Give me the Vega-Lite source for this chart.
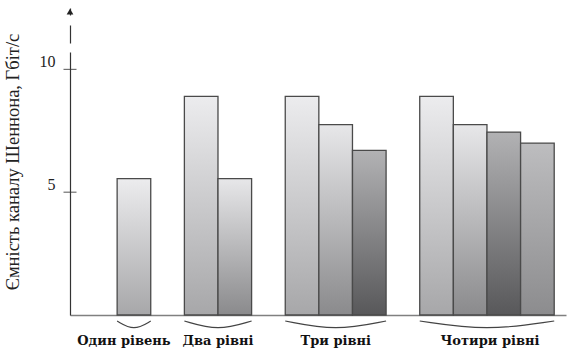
{
  "$schema": "https://vega.github.io/schema/vega-lite/v6.json",
  "width": 496,
  "height": 307,
  "autosize": {"type": "none"},
  "padding": {"left": 70, "top": 8, "right": 2, "bottom": 38},
  "background": "white",
  "config": {"view": {"stroke": null}, "font": "Liberation Serif"},
  "datasets": {
    "bars": [
      {"group": "Один рівень", "bar": "1-1", "level": 1, "capacity": 5.55},
      {"group": "Два рівні", "bar": "2-1", "level": 1, "capacity": 8.9},
      {"group": "Два рівні", "bar": "2-2", "level": 2, "capacity": 5.55},
      {"group": "Три рівні", "bar": "3-1", "level": 1, "capacity": 8.9},
      {"group": "Три рівні", "bar": "3-2", "level": 2, "capacity": 7.75},
      {"group": "Три рівні", "bar": "3-3", "level": 3, "capacity": 6.7},
      {"group": "Чотири рівні", "bar": "4-1", "level": 1, "capacity": 8.9},
      {"group": "Чотири рівні", "bar": "4-2", "level": 2, "capacity": 7.75},
      {"group": "Чотири рівні", "bar": "4-3", "level": 3, "capacity": 7.45},
      {"group": "Чотири рівні", "bar": "4-4", "level": 4, "capacity": 7.0}
    ],
    "braces": [
      {"group": "Один рівень", "bar": "e0", "dip": 0, "k": 0},
      {"group": "Один рівень", "bar": "1-1", "dip": 1, "k": 1},
      {"group": "Один рівень", "bar": "e1", "dip": 0, "k": 2},
      {"group": "Два рівні", "bar": "e2", "dip": 0, "k": 0},
      {"group": "Два рівні", "bar": "e3", "dip": 1, "k": 1},
      {"group": "Два рівні", "bar": "e4", "dip": 0, "k": 2},
      {"group": "Три рівні", "bar": "e5", "dip": 0, "k": 0},
      {"group": "Три рівні", "bar": "3-2", "dip": 1, "k": 1},
      {"group": "Три рівні", "bar": "e8", "dip": 0, "k": 2},
      {"group": "Чотири рівні", "bar": "e9", "dip": 0, "k": 0},
      {"group": "Чотири рівні", "bar": "e11", "dip": 1, "k": 1},
      {"group": "Чотири рівні", "bar": "e13", "dip": 0, "k": 2}
    ],
    "yticks": [{"v": 5}, {"v": 10}],
    "tip": [{"v": 12.35}]
  },
  "layer": [
    {
      "encoding": {
        "x": {
          "field": "bar",
          "type": "nominal",
          "scale": {
            "type": "point",
            "domain": ["q0", "q1", "e0", "1-1", "e1", "s1", "e2", "2-1", "e3", "2-2", "e4", "s2", "e5", "3-1", "e6", "3-2", "e7", "3-3", "e8", "s3", "e9", "4-1", "e10", "4-2", "e11", "4-3", "e12", "4-4", "e13"],
            "padding": 0.752,
            "align": 0.534
          },
          "axis": {
            "title": null,
            "labels": false,
            "ticks": false,
            "grid": false,
            "domainColor": "#808080",
            "domainWidth": 1.5
          }
        }
      },
      "layer": [
        {
          "data": {"name": "bars"},
          "encoding": {
            "y": {
              "field": "capacity",
              "type": "quantitative",
              "scale": {"domain": [0, 12.5], "nice": false},
              "axis": {
                "values": [5, 10],
                "ticks": false,
                "grid": false,
                "labelPadding": 15,
                "labelFont": "Liberation Serif",
                "labelFontSize": 16,
                "labelColor": "#222222",
                "labelBaseline": "alphabetic",
                "labelOffset": -3,
                "domainColor": "#333333",
                "domainWidth": 1.2,
                "domainDash": [263, 9, 18, 10, 20],
                "title": "Ємність каналу Шеннона, Гбіт/с",
                "titleFont": "Liberation Serif",
                "titleFontSize": 18.5,
                "titleFontWeight": "normal",
                "titleColor": "#222222",
                "titlePadding": 17
              }
            }
          },
          "layer": [
            {
              "transform": [{"filter": "datum.level === 1"}],
              "mark": {
                "type": "bar", "width": 33.6,
                "stroke": "#4a4a4a",
                "strokeWidth": 1.3,
                "fill": {"gradient": "linear", "x1": 0, "y1": 0, "x2": 0, "y2": 1,
                  "stops": [{"offset": 0, "color": "#ececee"}, {"offset": 1, "color": "#a7a7a9"}]}
              }
            },
            {
              "transform": [{"filter": "datum.level === 2"}],
              "mark": {
                "type": "bar", "width": 33.6,
                "stroke": "#4a4a4a",
                "strokeWidth": 1.3,
                "fill": {"gradient": "linear", "x1": 0, "y1": 0, "x2": 0, "y2": 1,
                  "stops": [{"offset": 0, "color": "#e7e7e9"}, {"offset": 1, "color": "#8a8a8c"}]}
              }
            },
            {
              "transform": [{"filter": "datum.level === 3"}],
              "mark": {
                "type": "bar", "width": 33.6,
                "stroke": "#4a4a4a",
                "strokeWidth": 1.3,
                "fill": {"gradient": "linear", "x1": 0, "y1": 0, "x2": 0, "y2": 1,
                  "stops": [{"offset": 0, "color": "#b2b2b4"}, {"offset": 1, "color": "#58585a"}]}
              }
            },
            {
              "transform": [{"filter": "datum.level === 4"}],
              "mark": {
                "type": "bar", "width": 33.6,
                "stroke": "#4a4a4a",
                "strokeWidth": 1.3,
                "fill": {"gradient": "linear", "x1": 0, "y1": 0, "x2": 0, "y2": 1,
                  "stops": [{"offset": 0, "color": "#bdbdbf"}, {"offset": 1, "color": "#8c8c8e"}]}
              }
            }
          ]
        },
        {
          "data": {"name": "braces"},
          "encoding": {
            "y": {"datum": 0, "type": "quantitative", "scale": {"domain": [0, 12.5], "nice": false}}
          },
          "layer": [
            {
              "mark": {"type": "line", "interpolate": "basis", "stroke": "#444444", "strokeWidth": 1.2},
              "encoding": {
                "yOffset": {"field": "dip", "type": "quantitative", "scale": {"domain": [0, 1], "range": [6, 16]}},
                "detail": {"field": "group"},
                "order": {"field": "k", "type": "quantitative"}
              }
            },
            {
              "transform": [{"filter": "datum.dip === 1 && (datum.group === 'Два рівні' || datum.group === 'Три рівні')"}],
              "mark": {"type": "text", "font": "DejaVu Serif", "fontWeight": "bold", "fontSize": 13, "color": "#111111", "baseline": "alphabetic", "dy": 30},
              "encoding": {"text": {"field": "group"}}
            },
            {
              "transform": [{"filter": "datum.dip === 1 && datum.group === 'Один рівень'"}],
              "mark": {"type": "text", "font": "DejaVu Serif", "fontWeight": "bold", "fontSize": 13, "color": "#111111", "baseline": "alphabetic", "dy": 30, "dx": -10},
              "encoding": {"text": {"field": "group"}}
            },
            {
              "transform": [{"filter": "datum.dip === 1 && datum.group === 'Чотири рівні'"}],
              "mark": {"type": "text", "font": "DejaVu Serif", "fontWeight": "bold", "fontSize": 13, "color": "#111111", "baseline": "alphabetic", "dy": 30, "dx": 3},
              "encoding": {"text": {"field": "group"}}
            }
          ]
        }
      ]
    },
    {
      "encoding": {
        "x": {"datum": 0, "type": "quantitative", "scale": {"domain": [0, 1]}, "axis": null}
      },
      "layer": [
        {
          "data": {"name": "yticks"},
          "mark": {"type": "tick", "orient": "horizontal", "size": 13, "thickness": 1.2, "color": "#333333"},
          "encoding": {
            "y": {"field": "v", "type": "quantitative", "scale": {"domain": [0, 12.5], "nice": false}}
          }
        },
        {
          "data": {"name": "tip"},
          "mark": {"type": "point", "shape": "triangle-up", "size": 45, "filled": true, "color": "#222222", "opacity": 1},
          "encoding": {
            "y": {"field": "v", "type": "quantitative", "scale": {"domain": [0, 12.5], "nice": false}}
          }
        }
      ]
    }
  ],
  "resolve": {"scale": {"x": "independent"}}
}
